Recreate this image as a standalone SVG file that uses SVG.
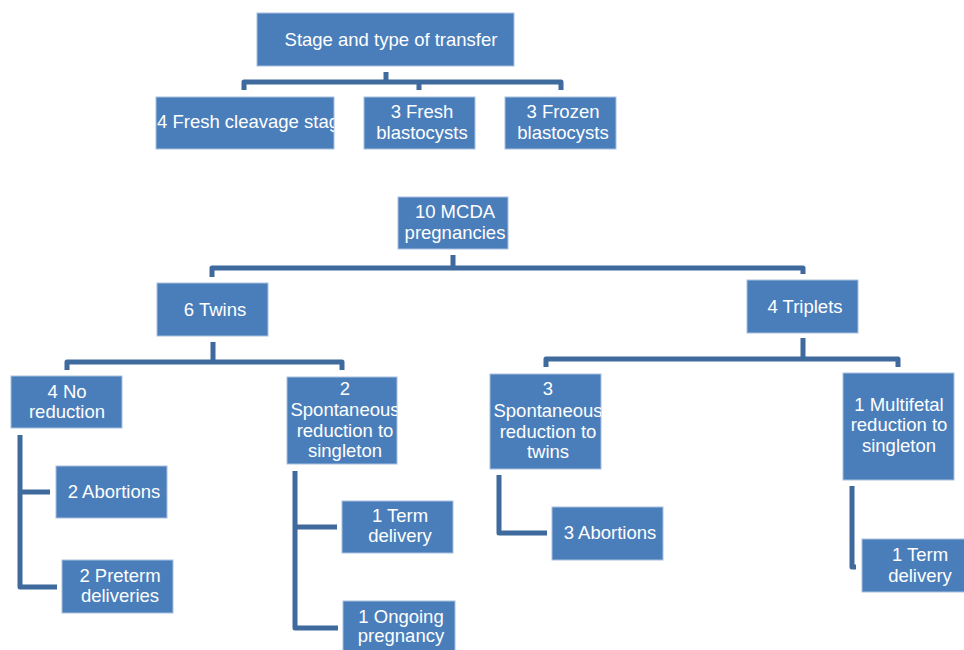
<svg xmlns="http://www.w3.org/2000/svg" width="964" height="650" viewBox="0 0 964 650">
<style>
.box{fill:#4A7EBB;stroke:#A7C0E0;stroke-width:1}
.t{font-family:"Liberation Sans",Arial,sans-serif;font-size:18.5px;fill:#FFFFFF;text-anchor:middle}
.c{fill:none;stroke:#3E6A9E;stroke-width:5;stroke-linejoin:round;stroke-linecap:butt}
</style>
<defs>
<clipPath id="cA"><rect x="156" y="97" width="178" height="52"/></clipPath>
<clipPath id="cS2"><rect x="287" y="377" width="110" height="87"/></clipPath>
<clipPath id="cS3"><rect x="490" y="374" width="111" height="95"/></clipPath>
</defs>
<g id="connectors">
<path class="c" d="M386,72 V82 M244,90 V82 H561 V90 M419,82 V90"/>
<path class="c" d="M453,255 V268 M212,277 V268 H803 V274"/>
<path class="c" d="M213,342 V362 M67,370 V362 H342 V370"/>
<path class="c" d="M803,338 V359 M546,367 V359 H898 V367"/>
<path class="c" d="M20,435 V587 H57 M20,492 H50"/>
<path class="c" d="M295,471 V628 H338 M295,527 H337"/>
<path class="c" d="M499,475 V533 H547"/>
<path class="c" d="M852,486 V567 H856"/>
</g>
<g id="n-stage"><rect class="box" x="257" y="13" width="257" height="53"/><text class="t" x="391" y="46">Stage and type of transfer</text></g>
<g id="n-fresh-cleavage"><rect class="box" x="156" y="97" width="178" height="52"/><text class="t" x="157" y="128" style="text-anchor:start" clip-path="url(#cA)">4 Fresh cleavage stage</text></g>
<g id="n-fresh-blast"><rect class="box" x="364" y="97" width="111" height="52"/><text class="t" x="422" y="118">3 Fresh</text><text class="t" x="422" y="139">blastocysts</text></g>
<g id="n-frozen-blast"><rect class="box" x="505" y="97" width="111" height="52"/><text class="t" x="563" y="118">3 Frozen</text><text class="t" x="563" y="139">blastocysts</text></g>
<g id="n-mcda"><rect class="box" x="398" y="197" width="110" height="52"/><text class="t" x="455" y="218">10 MCDA</text><text class="t" x="455" y="239">pregnancies</text></g>
<g id="n-twins"><rect class="box" x="157" y="283" width="111" height="53"/><text class="t" x="215" y="316">6 Twins</text></g>
<g id="n-triplets"><rect class="box" x="747" y="280" width="111" height="53"/><text class="t" x="805" y="313">4 Triplets</text></g>
<g id="n-noreduction"><rect class="box" x="11" y="376" width="111" height="52"/><text class="t" x="67" y="398">4 No</text><text class="t" x="67" y="418">reduction</text></g>
<g id="n-spont-single"><rect class="box" x="287" y="377" width="110" height="87"/><g clip-path="url(#cS2)"><text class="t" x="345" y="395">2</text><text class="t" x="345" y="416">Spontaneous</text><text class="t" x="345" y="437">reduction to</text><text class="t" x="345" y="457">singleton</text></g></g>
<g id="n-spont-twins"><rect class="box" x="490" y="374" width="111" height="95"/><g clip-path="url(#cS3)"><text class="t" x="548" y="395">3</text><text class="t" x="548" y="417">Spontaneous</text><text class="t" x="548" y="438">reduction to</text><text class="t" x="548" y="458">twins</text></g></g>
<g id="n-multifetal"><rect class="box" x="843" y="373" width="111" height="107"/><text class="t" x="899" y="411">1 Multifetal</text><text class="t" x="899" y="431">reduction to</text><text class="t" x="899" y="452">singleton</text></g>
<g id="n-abort2"><rect class="box" x="56" y="466" width="111" height="52"/><text class="t" x="114" y="498">2 Abortions</text></g>
<g id="n-preterm"><rect class="box" x="62" y="560" width="111" height="53"/><text class="t" x="120" y="582">2 Preterm</text><text class="t" x="120" y="602">deliveries</text></g>
<g id="n-term1"><rect class="box" x="342" y="501" width="111" height="52"/><text class="t" x="400" y="522">1 Term</text><text class="t" x="400" y="542">delivery</text></g>
<g id="n-ongoing"><rect class="box" x="343" y="601" width="112" height="55"/><text class="t" x="401" y="623">1 Ongoing</text><text class="t" x="401" y="642">pregnancy</text></g>
<g id="n-abort3"><rect class="box" x="552" y="507" width="111" height="53"/><text class="t" x="610" y="539">3 Abortions</text></g>
<g id="n-term2"><rect class="box" x="862" y="539" width="111" height="53"/><text class="t" x="920" y="561">1 Term</text><text class="t" x="920" y="582">delivery</text></g>
</svg>
